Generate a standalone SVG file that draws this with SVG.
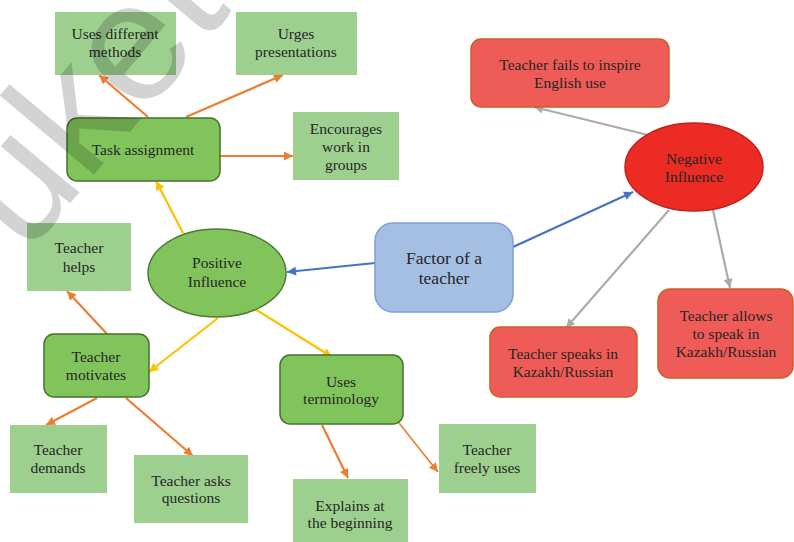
<svg xmlns="http://www.w3.org/2000/svg" width="794" height="542" viewBox="0 0 794 542" font-family="Liberation Serif, Times New Roman, serif">
<defs>
<marker id="aO" viewBox="0 0 10 10" refX="10" refY="5" markerWidth="10" markerHeight="9" markerUnits="userSpaceOnUse" orient="auto"><path d="M0,0 L10,5 L0,10 z" fill="#ED7D31"/></marker>
<marker id="aY" viewBox="0 0 10 10" refX="10" refY="5" markerWidth="10" markerHeight="9" markerUnits="userSpaceOnUse" orient="auto"><path d="M0,0 L10,5 L0,10 z" fill="#FFC000"/></marker>
<marker id="aB" viewBox="0 0 10 10" refX="10" refY="5" markerWidth="10" markerHeight="9" markerUnits="userSpaceOnUse" orient="auto"><path d="M0,0 L10,5 L0,10 z" fill="#4472C4"/></marker>
<marker id="aG" viewBox="0 0 10 10" refX="10" refY="5" markerWidth="10" markerHeight="9" markerUnits="userSpaceOnUse" orient="auto"><path d="M0,0 L10,5 L0,10 z" fill="#ABABAB"/></marker>
</defs>
<style>
text{font-family:"Liberation Serif","Times New Roman",serif;font-size:15.5px;fill:#262626;text-anchor:middle}
.lg{fill:#9DD08F}
.dg{fill:#82C45C;stroke:#44732C;stroke-width:1.5}
.rd{fill:#EF5B56;stroke:#C56324;stroke-width:1.5}
.o{stroke:#ED7D31;stroke-width:2.2;fill:none;marker-end:url(#aO)}
.y{stroke:#FFC000;stroke-width:2.2;fill:none;marker-end:url(#aY)}
.b{stroke:#4472C4;stroke-width:2.2;fill:none;marker-end:url(#aB)}
.g{stroke:#ABABAB;stroke-width:2.2;fill:none;marker-end:url(#aG)}
.big{font-size:17.5px}
text.wm{font-family:"Liberation Sans",Arial,sans-serif;font-size:170px;fill:#000;text-anchor:start}
</style>
<rect width="794" height="542" fill="#fff"/>
<g id="connectors">
<line class="o" x1="148" y1="117" x2="99" y2="75"/>
<line class="o" x1="186" y1="117" x2="283" y2="75"/>
<line class="o" x1="220" y1="156" x2="293" y2="156"/>
<line class="y" x1="183" y1="233" x2="156" y2="181"/>
<line class="b" x1="375" y1="263" x2="287" y2="272"/>
<line class="b" x1="513" y1="247" x2="633" y2="192"/>
<line class="g" x1="648" y1="135" x2="534" y2="107"/>
<line class="g" x1="669" y1="210" x2="566" y2="328"/>
<line class="g" x1="713" y1="210" x2="730" y2="288"/>
<line class="y" x1="218" y1="318" x2="149" y2="372"/>
<line class="y" x1="255" y1="309" x2="332" y2="357"/>
<line class="o" x1="107" y1="334" x2="67" y2="291"/>
<line class="o" x1="97" y1="398" x2="46" y2="425"/>
<line class="o" x1="126" y1="398" x2="193" y2="456"/>
<line class="o" x1="322" y1="425" x2="348" y2="478"/>
<line class="o" x1="399" y1="423" x2="438" y2="472" style="stroke-width:1.6"/>
</g>
<g id="n-uses-different"><rect class="lg" x="55" y="12" width="121" height="63"/><text x="115" y="39">Uses different</text><text x="115" y="57">methods</text></g>
<g id="n-urges"><rect class="lg" x="236" y="12" width="121" height="63"/><text x="296" y="39">Urges</text><text x="296" y="57">presentations</text></g>
<g id="n-encourages"><rect class="lg" x="293" y="112" width="106" height="68"/><text x="346" y="134">Encourages</text><text x="346" y="152">work in</text><text x="346" y="170">groups</text></g>
<g id="n-task"><rect class="dg" x="67" y="118" width="153" height="63" rx="10"/><text x="143" y="155">Task assignment</text></g>
<g id="n-fails"><rect class="rd" x="471" y="39" width="198" height="68" rx="10"/><text x="570" y="70">Teacher fails to inspire</text><text x="570" y="88">English use</text></g>
<g id="n-negative"><ellipse cx="694" cy="167" rx="69" ry="44" fill="#EC2B24" stroke="#BE221D" stroke-width="1.5"/><text x="694" y="164">Negative</text><text x="694" y="182">Influence</text></g>
<g id="n-positive"><ellipse cx="217" cy="273" rx="69" ry="44" fill="#82C45C" stroke="#4E7A36" stroke-width="1.5"/><text x="217" y="268">Positive</text><text x="217" y="287">Influence</text></g>
<g id="n-factor"><rect x="375" y="223" width="138" height="89" rx="18" fill="#A5BFE3" stroke="#7EA1D4" stroke-width="1.5"/><text class="big" x="444" y="264">Factor of a</text><text class="big" x="444" y="284">teacher</text></g>
<g id="n-helps"><rect class="lg" x="27" y="223" width="104" height="68"/><text x="79" y="253">Teacher</text><text x="79" y="272">helps</text></g>
<g id="n-motivates"><rect class="dg" x="44" y="334" width="105" height="63" rx="10"/><text x="96" y="362">Teacher</text><text x="96" y="380">motivates</text></g>
<g id="n-terminology"><rect class="dg" x="280" y="355" width="123" height="69" rx="10"/><text x="341" y="387">Uses</text><text x="341" y="404">terminology</text></g>
<g id="n-demands"><rect class="lg" x="10" y="425" width="97" height="68"/><text x="58" y="455">Teacher</text><text x="58" y="473">demands</text></g>
<g id="n-asks"><rect class="lg" x="134" y="455" width="114" height="68"/><text x="191" y="486">Teacher asks</text><text x="191" y="503">questions</text></g>
<g id="n-explains"><rect class="lg" x="293" y="479" width="115" height="63"/><text x="350" y="511">Explains at</text><text x="350" y="528">the beginning</text></g>
<g id="n-freely"><rect class="lg" x="439" y="424" width="97" height="69"/><text x="487" y="455">Teacher</text><text x="487" y="473">freely uses</text></g>
<g id="n-speaks"><rect class="rd" x="490" y="327" width="147" height="70" rx="10"/><text x="563" y="359">Teacher speaks in</text><text x="563" y="377">Kazakh/Russian</text></g>
<g id="n-allows"><rect class="rd" x="658" y="289" width="135" height="89" rx="12"/><text x="726" y="321">Teacher allows</text><text x="726" y="339">to speak in</text><text x="726" y="357">Kazakh/Russian</text></g>
<g id="watermark" opacity="0.17"><text class="wm" x="26" y="256" transform="rotate(-50 26 256)">uket</text></g>
</svg>
